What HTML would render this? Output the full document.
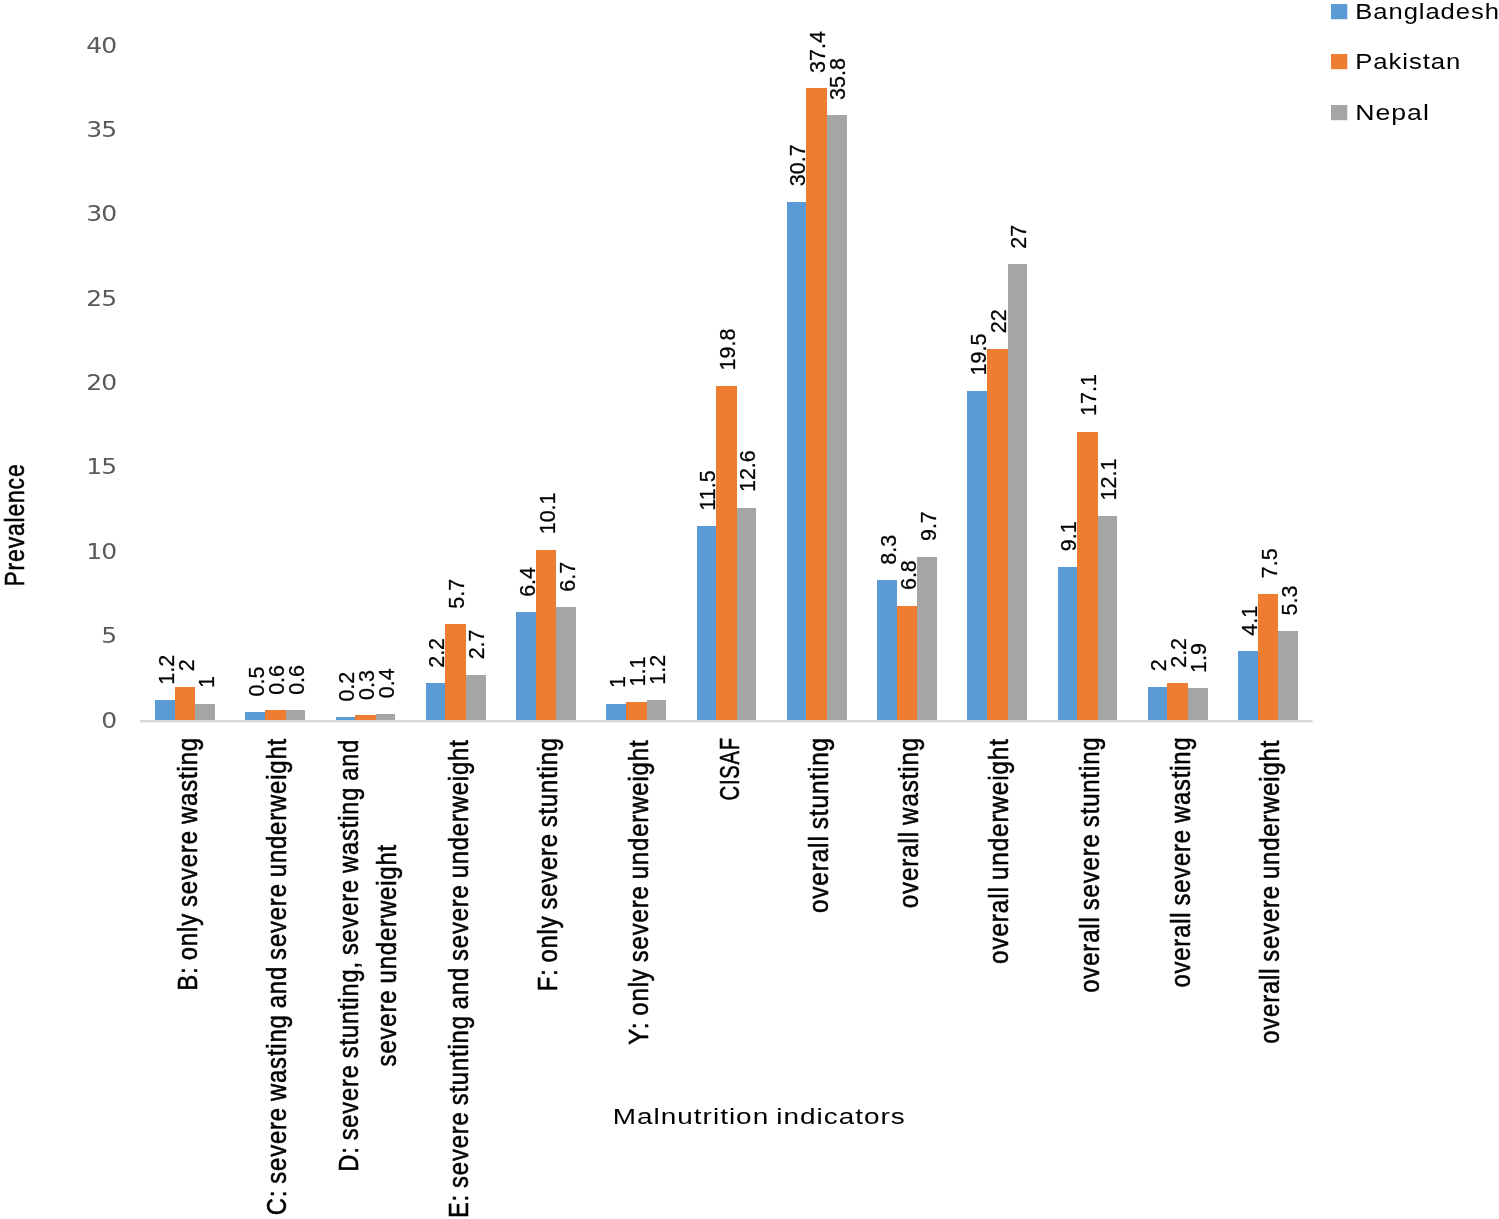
<!DOCTYPE html>
<html lang="en"><head><meta charset="utf-8"><title>Prevalence of malnutrition indicators</title>
<style>html,body{margin:0;padding:0;background:#fff}body{width:1499px;height:1219px;overflow:hidden}svg{display:block;filter:blur(0.45px)}text{font-family:"Liberation Sans", Arial, sans-serif;fill:#000;letter-spacing:0.036em;word-spacing:-0.06em}.n{font-family:"DejaVu Sans", "Liberation Sans", sans-serif;fill:#595959;letter-spacing:0;word-spacing:0}.d{letter-spacing:0;stroke:#000;stroke-width:0.25px}.c{stroke:#000;stroke-width:0.55px}</style></head><body>
<svg width="1499" height="1219" viewBox="0 0 1499 1219">
<rect width="1499" height="1219" fill="#fff"/>
<text class="n" transform="translate(116.00 727.50) scale(1.22 1)" font-size="20.5" text-anchor="end" style="letter-spacing:-0.9px">0</text>
<text class="n" transform="translate(116.00 643.12) scale(1.22 1)" font-size="20.5" text-anchor="end" style="letter-spacing:-0.9px">5</text>
<text class="n" transform="translate(116.00 558.75) scale(1.22 1)" font-size="20.5" text-anchor="end" style="letter-spacing:-0.9px">10</text>
<text class="n" transform="translate(116.00 474.38) scale(1.22 1)" font-size="20.5" text-anchor="end" style="letter-spacing:-0.9px">15</text>
<text class="n" transform="translate(116.00 390.00) scale(1.22 1)" font-size="20.5" text-anchor="end" style="letter-spacing:-0.9px">20</text>
<text class="n" transform="translate(116.00 305.62) scale(1.22 1)" font-size="20.5" text-anchor="end" style="letter-spacing:-0.9px">25</text>
<text class="n" transform="translate(116.00 221.25) scale(1.22 1)" font-size="20.5" text-anchor="end" style="letter-spacing:-0.9px">30</text>
<text class="n" transform="translate(116.00 136.88) scale(1.22 1)" font-size="20.5" text-anchor="end" style="letter-spacing:-0.9px">35</text>
<text class="n" transform="translate(116.00 52.50) scale(1.22 1)" font-size="20.5" text-anchor="end" style="letter-spacing:-0.9px">40</text>
<g shape-rendering="crispEdges">
<rect x="155" y="700.22" width="20" height="19.78" fill="#5B9BD5"/>
<rect x="175" y="686.70" width="20" height="33.30" fill="#ED7D31"/>
<rect x="195" y="703.60" width="20" height="16.40" fill="#A5A5A5"/>
<rect x="245" y="712.05" width="20" height="7.95" fill="#5B9BD5"/>
<rect x="265" y="710.36" width="21" height="9.64" fill="#ED7D31"/>
<rect x="286" y="710.36" width="19" height="9.64" fill="#A5A5A5"/>
<rect x="336" y="717.12" width="19" height="2.88" fill="#5B9BD5"/>
<rect x="355" y="715.43" width="21" height="4.57" fill="#ED7D31"/>
<rect x="376" y="713.74" width="19" height="6.26" fill="#A5A5A5"/>
<rect x="426" y="683.32" width="19" height="36.68" fill="#5B9BD5"/>
<rect x="445" y="624.17" width="21" height="95.83" fill="#ED7D31"/>
<rect x="466" y="674.87" width="20" height="45.13" fill="#A5A5A5"/>
<rect x="516" y="612.34" width="20" height="107.66" fill="#5B9BD5"/>
<rect x="536" y="549.81" width="20" height="170.19" fill="#ED7D31"/>
<rect x="556" y="607.27" width="20" height="112.73" fill="#A5A5A5"/>
<rect x="606" y="703.60" width="20" height="16.40" fill="#5B9BD5"/>
<rect x="626" y="701.91" width="21" height="18.09" fill="#ED7D31"/>
<rect x="647" y="700.22" width="19" height="19.78" fill="#A5A5A5"/>
<rect x="697" y="526.15" width="19" height="193.85" fill="#5B9BD5"/>
<rect x="716" y="385.88" width="21" height="334.12" fill="#ED7D31"/>
<rect x="737" y="507.56" width="19" height="212.44" fill="#A5A5A5"/>
<rect x="787" y="201.67" width="19" height="518.33" fill="#5B9BD5"/>
<rect x="806" y="88.44" width="21" height="631.56" fill="#ED7D31"/>
<rect x="827" y="115.48" width="20" height="604.52" fill="#A5A5A5"/>
<rect x="877" y="580.23" width="20" height="139.77" fill="#5B9BD5"/>
<rect x="897" y="605.58" width="20" height="114.42" fill="#ED7D31"/>
<rect x="917" y="556.57" width="20" height="163.43" fill="#A5A5A5"/>
<rect x="967" y="390.95" width="20" height="329.05" fill="#5B9BD5"/>
<rect x="987" y="348.70" width="21" height="371.30" fill="#ED7D31"/>
<rect x="1008" y="264.20" width="19" height="455.80" fill="#A5A5A5"/>
<rect x="1058" y="566.71" width="19" height="153.29" fill="#5B9BD5"/>
<rect x="1077" y="431.51" width="21" height="288.49" fill="#ED7D31"/>
<rect x="1098" y="516.01" width="19" height="203.99" fill="#A5A5A5"/>
<rect x="1148" y="686.70" width="19" height="33.30" fill="#5B9BD5"/>
<rect x="1167" y="683.32" width="21" height="36.68" fill="#ED7D31"/>
<rect x="1188" y="688.39" width="20" height="31.61" fill="#A5A5A5"/>
<rect x="1238" y="651.21" width="20" height="68.79" fill="#5B9BD5"/>
<rect x="1258" y="593.75" width="20" height="126.25" fill="#ED7D31"/>
<rect x="1278" y="630.93" width="20" height="89.07" fill="#A5A5A5"/>
</g>
<rect x="140" y="720" width="1172.6" height="2.4" fill="#D9D9D9"/>
<text class="d" transform="translate(173.55 684.72) rotate(-90)" font-size="21.5">1.2</text>
<text class="d" transform="translate(193.60 671.20) rotate(-90)" font-size="21.5">2</text>
<text class="d" transform="translate(213.65 688.10) rotate(-90)" font-size="21.5">1</text>
<text class="d" transform="translate(263.80 696.55) rotate(-90)" font-size="21.5">0.5</text>
<text class="d" transform="translate(283.85 694.86) rotate(-90)" font-size="21.5">0.6</text>
<text class="d" transform="translate(303.90 694.86) rotate(-90)" font-size="21.5">0.6</text>
<text class="d" transform="translate(354.05 701.62) rotate(-90)" font-size="21.5">0.2</text>
<text class="d" transform="translate(374.10 699.93) rotate(-90)" font-size="21.5">0.3</text>
<text class="d" transform="translate(394.15 698.24) rotate(-90)" font-size="21.5">0.4</text>
<text class="d" transform="translate(444.30 667.82) rotate(-90)" font-size="21.5">2.2</text>
<text class="d" transform="translate(464.35 608.67) rotate(-90)" font-size="21.5">5.7</text>
<text class="d" transform="translate(484.40 659.37) rotate(-90)" font-size="21.5">2.7</text>
<text class="d" transform="translate(534.55 596.84) rotate(-90)" font-size="21.5">6.4</text>
<text class="d" transform="translate(554.60 534.31) rotate(-90)" font-size="21.5">10.1</text>
<text class="d" transform="translate(574.65 591.77) rotate(-90)" font-size="21.5">6.7</text>
<text class="d" transform="translate(624.80 688.10) rotate(-90)" font-size="21.5">1</text>
<text class="d" transform="translate(644.85 686.41) rotate(-90)" font-size="21.5">1.1</text>
<text class="d" transform="translate(664.90 684.72) rotate(-90)" font-size="21.5">1.2</text>
<text class="d" transform="translate(715.05 510.65) rotate(-90)" font-size="21.5">11.5</text>
<text class="d" transform="translate(735.10 370.38) rotate(-90)" font-size="21.5">19.8</text>
<text class="d" transform="translate(755.15 492.06) rotate(-90)" font-size="21.5">12.6</text>
<text class="d" transform="translate(805.30 186.17) rotate(-90)" font-size="21.5">30.7</text>
<text class="d" transform="translate(825.35 72.94) rotate(-90)" font-size="21.5">37.4</text>
<text class="d" transform="translate(845.40 99.98) rotate(-90)" font-size="21.5">35.8</text>
<text class="d" transform="translate(895.55 564.73) rotate(-90)" font-size="21.5">8.3</text>
<text class="d" transform="translate(915.60 590.08) rotate(-90)" font-size="21.5">6.8</text>
<text class="d" transform="translate(935.65 541.07) rotate(-90)" font-size="21.5">9.7</text>
<text class="d" transform="translate(985.80 375.45) rotate(-90)" font-size="21.5">19.5</text>
<text class="d" transform="translate(1005.85 333.20) rotate(-90)" font-size="21.5">22</text>
<text class="d" transform="translate(1025.90 248.70) rotate(-90)" font-size="21.5">27</text>
<text class="d" transform="translate(1076.05 551.21) rotate(-90)" font-size="21.5">9.1</text>
<text class="d" transform="translate(1096.10 416.01) rotate(-90)" font-size="21.5">17.1</text>
<text class="d" transform="translate(1116.15 500.51) rotate(-90)" font-size="21.5">12.1</text>
<text class="d" transform="translate(1166.30 671.20) rotate(-90)" font-size="21.5">2</text>
<text class="d" transform="translate(1186.35 667.82) rotate(-90)" font-size="21.5">2.2</text>
<text class="d" transform="translate(1206.40 672.89) rotate(-90)" font-size="21.5">1.9</text>
<text class="d" transform="translate(1256.55 635.71) rotate(-90)" font-size="21.5">4.1</text>
<text class="d" transform="translate(1276.60 578.25) rotate(-90)" font-size="21.5">7.5</text>
<text class="d" transform="translate(1296.65 615.43) rotate(-90)" font-size="21.5">5.3</text>
<text class="c" transform="translate(196.90 990.71) rotate(-90)" font-size="27.0" textLength="253.73" lengthAdjust="spacingAndGlyphs">B: only severe wasting</text>
<text class="c" transform="translate(286.20 1215.30) rotate(-90)" font-size="27.0" textLength="477.30" lengthAdjust="spacingAndGlyphs">C: severe wasting and severe underweight</text>
<text class="c" transform="translate(357.80 1171.71) rotate(-90)" font-size="27.0" textLength="433.02" lengthAdjust="spacingAndGlyphs">D: severe stunting, severe wasting and</text>
<text class="c" transform="translate(396.20 1066.40) rotate(-90)" font-size="27.0" textLength="222.50" lengthAdjust="spacingAndGlyphs">severe underweight</text>
<text class="c" transform="translate(467.50 1218.10) rotate(-90)" font-size="27.0" textLength="478.71" lengthAdjust="spacingAndGlyphs">E: severe stunting and severe underweight</text>
<text class="c" transform="translate(557.20 991.31) rotate(-90)" font-size="27.0" textLength="254.13" lengthAdjust="spacingAndGlyphs">F: only severe stunting</text>
<text class="c" transform="translate(647.80 1044.70) rotate(-90)" font-size="27.0" textLength="305.10" lengthAdjust="spacingAndGlyphs">Y: only severe underweight</text>
<text class="c" transform="translate(738.50 800.41) rotate(-90)" font-size="27.0" textLength="63.10" lengthAdjust="spacingAndGlyphs">CISAF</text>
<text class="c" transform="translate(828.00 913.11) rotate(-90)" font-size="27.0" textLength="176.13" lengthAdjust="spacingAndGlyphs">overall stunting</text>
<text class="c" transform="translate(918.30 908.21) rotate(-90)" font-size="27.0" textLength="171.23" lengthAdjust="spacingAndGlyphs">overall wasting</text>
<text class="c" transform="translate(1008.30 963.91) rotate(-90)" font-size="27.0" textLength="225.71" lengthAdjust="spacingAndGlyphs">overall underweight</text>
<text class="c" transform="translate(1098.70 992.81) rotate(-90)" font-size="27.0" textLength="256.32" lengthAdjust="spacingAndGlyphs">overall severe stunting</text>
<text class="c" transform="translate(1189.50 987.51) rotate(-90)" font-size="27.0" textLength="251.02" lengthAdjust="spacingAndGlyphs">overall severe wasting</text>
<text class="c" transform="translate(1279.00 1043.80) rotate(-90)" font-size="27.0" textLength="303.91" lengthAdjust="spacingAndGlyphs">overall severe underweight</text>
<text class="c" transform="translate(24 586.5) rotate(-90)" font-size="27" textLength="123" lengthAdjust="spacingAndGlyphs">Prevalence</text>
<text x="612.8" y="1124.4" font-size="22" textLength="293" lengthAdjust="spacingAndGlyphs">Malnutrition indicators</text>
<rect x="1331" y="4.0" width="16.3" height="15.2" fill="#5B9BD5"/>
<text x="1355.3" y="19.2" font-size="21.5" textLength="144.5" lengthAdjust="spacingAndGlyphs">Bangladesh</text>
<rect x="1331" y="54.0" width="16.3" height="15.2" fill="#ED7D31"/>
<text x="1355.3" y="69.3" font-size="21.5" textLength="106.0" lengthAdjust="spacingAndGlyphs">Pakistan</text>
<rect x="1331" y="105.0" width="16.3" height="15.2" fill="#A5A5A5"/>
<text x="1355.3" y="119.8" font-size="21.5" textLength="74.5" lengthAdjust="spacingAndGlyphs">Nepal</text>
</svg></body></html>
